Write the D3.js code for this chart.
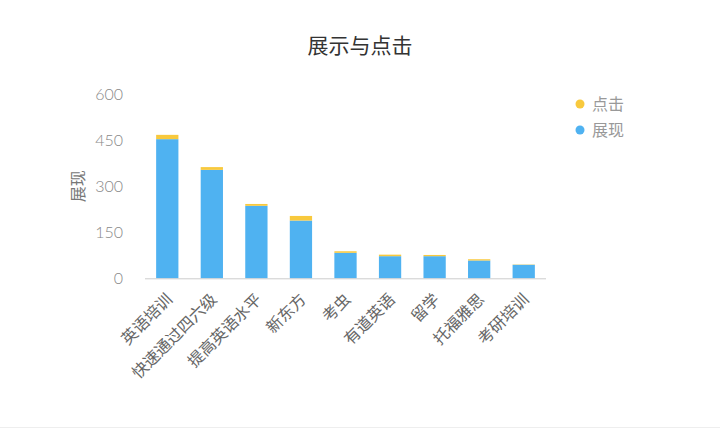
<!DOCTYPE html>
<html>
<head>
<meta charset="utf-8">
<script src="https://cdn.jsdelivr.net/npm/d3@7"></script>
<style>
  body { margin: 0; background: #fff; }
  svg { display: block; font-family: "Noto Sans CJK SC", "Noto Sans", sans-serif; }
</style>
</head>
<body>
<svg id="chart" width="720" height="428"></svg>
<script>
let categories = ["英语培训", "快速通过四六级", "提高英语水平", "新东方", "考虫", "有道英语", "留学", "托福雅思", "考研培训"];
let showValues = [453, 353, 236, 188, 83, 72, 72, 58, 44];
let clickValues = [14, 9, 6, 15, 5, 5, 4, 4, 1];
let yTicks = [0, 150, 300, 450, 600];
let seriesNames = ["点击", "展现"];
let seriesColors = ["#f8c93d", "#4fb2f1"];

let margin = {left: 145, right: 174, top: 94, bottom: 150};
let width = 720, height = 428;

let svg = d3.select("#chart");

// bottom border line
svg.append("line")
    .attr("x1", 0).attr("x2", width)
    .attr("y1", height - 0.5).attr("y2", height - 0.5)
    .attr("stroke", "#eeeeee");

let x = d3.scaleBand()
    .domain(categories)
    .range([margin.left, width - margin.right])
    .paddingInner(0.5)
    .paddingOuter(0.25);

let y = d3.scaleLinear()
    .domain([0, 600])
    .range([height - margin.bottom + 0.3, margin.top]);

// title
svg.append("text")
    .attr("x", 360)
    .attr("y", 53)
    .attr("text-anchor", "middle")
    .style("font-size", "21px")
    .style("fill", "#333")
    .text("展示与点击");

// y axis
let yAxis = svg.append("g")
    .attr("transform", `translate(${margin.left - 22},0)`)
    .call(d3.axisLeft(y).tickValues(yTicks).tickSize(0).tickPadding(0));
yAxis.select(".domain").remove();
yAxis.selectAll("text")
    .style("font-family", "Lato, 'Noto Sans', sans-serif")
    .style("font-weight", 300)
    .style("font-size", "16px")
    .style("fill", "#888");

svg.append("text")
    .attr("transform", `translate(84,${y(300)}) rotate(-90)`)
    .attr("text-anchor", "middle")
    .style("font-size", "16px")
    .style("fill", "#777")
    .text("展现");

// stacked bars
let data = categories.map(function (c, i) {
    return {cat: c, show: showValues[i], click: clickValues[i]};
});
let stack = d3.stack().keys(["show", "click"])(data);
let colorFor = {show: seriesColors[1], click: seriesColors[0]};

svg.append("g").selectAll("g")
    .data(stack)
    .join("g")
    .attr("fill", function (s) { return colorFor[s.key]; })
    .selectAll("rect")
    .data(function (s) { return s; })
    .join("rect")
    .attr("x", function (d) { return x(d.data.cat); })
    .attr("y", function (d) { return y(d[1]); })
    .attr("width", x.bandwidth())
    .attr("height", function (d) { return y(d[0]) - y(d[1]); });

// x axis line
svg.append("line")
    .attr("x1", margin.left).attr("x2", width - margin.right)
    .attr("y1", y(0) + 0.5).attr("y2", y(0) + 0.5)
    .attr("stroke", "#cccccc");

// x labels
svg.append("g").selectAll("text")
    .data(categories)
    .join("text")
    .attr("transform", function (d) {
        return `translate(${x(d) + x.bandwidth() / 2 + 3},${y(0) + 19}) rotate(-45)`;
    })
    .attr("text-anchor", "end")
    .attr("dominant-baseline", "middle")
    .style("font-size", "16px")
    .style("fill", "#666")
    .text(function (d) { return d; });

// legend
let legend = svg.append("g").selectAll("g")
    .data(seriesNames)
    .join("g")
    .attr("transform", function (d, i) { return `translate(580,${104 + i * 26})`; });
legend.append("circle")
    .attr("r", 4.5)
    .attr("fill", function (d, i) { return seriesColors[i]; });
legend.append("text")
    .attr("x", 12)
    .attr("dy", "0.35em")
    .style("font-size", "16px")
    .style("fill", "#999")
    .text(function (d) { return d; });
</script>
</body>
</html>
